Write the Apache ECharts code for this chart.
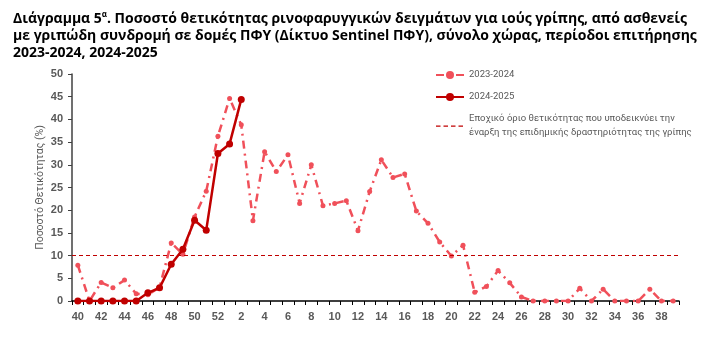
<!DOCTYPE html>
<html><head><meta charset="utf-8">
<script src="https://cdn.jsdelivr.net/npm/echarts@6/dist/echarts.min.js"></script>
<style>html,body{margin:0;padding:0;background:#fff}#c{width:706px;height:348px}</style>
</head><body><div id="c"></div>
<script>
const weeks = ['40','41','42','43','44','45','46','47','48','49','50','51','52','1','2','3','4','5','6','7','8','9','10','11','12','13','14','15','16','17','18','19','20','21','22','23','24','25','26','27','28','29','30','31','32','33','34','35','36','37','38','39'];
const s2023_2024 = [7.9,0,4.1,2.9,4.6,1.6,1.4,3,12.8,10.3,18.5,24.2,36.3,44.6,38.8,17.7,32.9,28.5,32.2,21.5,30,21,21.5,22.1,15.5,24.1,31.1,27.2,28,19.8,17.1,13,9.9,12.3,1.9,3.2,6.7,4,0.9,0,0,0,0,2.8,0,2.6,0,0,0,2.6,0,0];
const s2024_2025 = [0,0,0,0,0,0,1.8,2.9,8.1,11.4,17.8,15.6,32.5,34.6,44.4];
const threshold = 10;
const yTicks = {min:0, max:50, interval:5};
const names = ['2023-2024','2024-2025','Εποχικό όριο θετικότητας που υποδεικνύει την\nέναρξη της επιδημικής δραστηριότητας της γρίπης'];

const chart = echarts.init(document.getElementById('c'), null, {renderer:'canvas'});
chart.setOption({
  animation:false,
  backgroundColor:'#fff',
  title:{
    left:8, top:6,
    text:'Διάγραμμα 5{sup|α}. Ποσοστό θετικότητας ρινοφαρυγγικών δειγμάτων για ιούς γρίπης, από ασθενείς\nμε γριπώδη συνδρομή σε δομές ΠΦΥ (Δίκτυο Sentinel ΠΦΥ), σύνολο χώρας, περίοδοι επιτήρησης\n2023-2024, 2024-2025',
    textStyle:{fontFamily:'Open Sans',fontSize:14,fontWeight:'bold',color:'#000',lineHeight:17,
      rich:{sup:{fontFamily:'Open Sans',fontSize:8,fontWeight:'bold',color:'#000',verticalAlign:'top',padding:[0,0,6,0]}}}
  },
  legend:{
    orient:'vertical', left:430, top:63, itemGap:8, itemWidth:28, itemHeight:10,
    textStyle:{fontFamily:'Roboto',fontSize:9.5,color:'#595959',lineHeight:14},
    data:[names[0], names[1],
      {name:names[2], icon:'path://M0,0 M28,10 M0,4.4h4.5v1.3h-4.5z M7.5,4.4h4.5v1.3h-4.5z M15,4.4h4.5v1.3h-4.5z M22.5,4.4h4.5v1.3h-4.5z',
       itemStyle:{color:'#C00000'}}]
  },
  grid:{left:72,right:27,top:74,bottom:47},
  xAxis:{
    type:'category', data:weeks, boundaryGap:true,
    axisLine:{lineStyle:{color:'#000',width:1.5}},
    axisTick:{show:true,interval:0,length:4,lineStyle:{color:'#000'}},
    axisLabel:{interval:1,fontFamily:'Liberation Sans',fontWeight:'bold',fontSize:11,color:'#595959',margin:10}
  },
  yAxis:{
    type:'value', min:yTicks.min, max:yTicks.max, interval:yTicks.interval,
    name:'Ποσοστό Θετικότητας (%)', nameLocation:'middle', nameGap:26, nameMoveOverlap:false,
    nameTextStyle:{fontFamily:'Roboto',fontSize:10.5,color:'#595959'},
    axisLine:{show:true,lineStyle:{color:'#404040',width:1.5}},
    axisTick:{show:true,length:4,lineStyle:{color:'#404040'}},
    splitLine:{show:false},
    axisLabel:{fontFamily:'Liberation Sans',fontWeight:'bold',fontSize:11,color:'#595959',margin:9}
  },
  series:[
    {name:names[0],type:'line',data:s2023_2024,symbol:'circle',symbolSize:5,z:2,
     itemStyle:{color:'#F0505A'},lineStyle:{color:'#F0505A',width:2.5,type:[8,5,2,5]}},
    {name:names[1],type:'line',data:s2024_2025,symbol:'circle',symbolSize:7,z:3,
     itemStyle:{color:'#C00000'},lineStyle:{color:'#C00000',width:2.5}},
    {name:names[2],type:'line',data:[],symbol:'none',
     itemStyle:{color:'#C00000'},lineStyle:{color:'#C00000',width:1.2,type:[4,3]},
     markLine:{silent:true,symbol:'none',label:{show:false},
       lineStyle:{color:'#C00000',width:1.2,type:[4,3]},data:[{yAxis:threshold}]}}
  ]
});
</script></body></html>
